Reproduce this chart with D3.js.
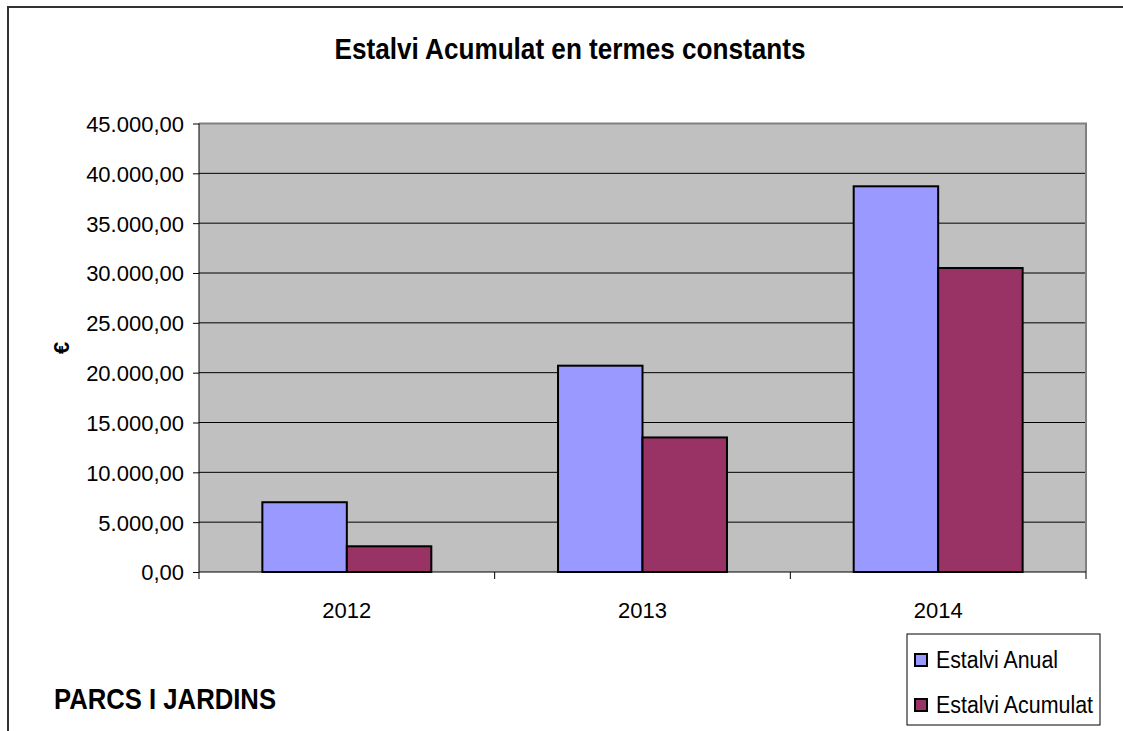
<!DOCTYPE html>
<html>
<head>
<meta charset="utf-8">
<script src="https://cdn.jsdelivr.net/npm/d3@7"></script>
<style>
  body { margin: 0; background: #fff; }
  text { font-family: "Liberation Sans", Arial, sans-serif; fill: #000; }
</style>
</head>
<body>
<div class="chart"></div>
<script>
var svgWidth = 1123;
var svgHeight = 731;

// chart data
var years = ["2012", "2013", "2014"];
var series = ["Estalvi Anual", "Estalvi Acumulat"];
var anual = [7000, 20700, 38700];
var acumulat = [2580, 13500, 30500];
var yTicks = [0, 5000, 10000, 15000, 20000, 25000, 30000, 35000, 40000, 45000];
var colors = ["#9999FF", "#993366"];

// plot area
var margin = { top: 123.5, right: 37, bottom: 159, left: 199 };
var width = svgWidth - margin.left - margin.right;
var height = svgHeight - margin.top - margin.bottom;

var svg = d3.select(".chart")
  .append("svg")
  .attr("width", svgWidth)
  .attr("height", svgHeight);

// outer chart border (runs off the right and bottom)
svg.append("path")
  .attr("d", "M8,740 L8,7 L1130,7")
  .attr("fill", "none")
  .attr("stroke", "#333")
  .attr("stroke-width", 2);

var chartGroup = svg.append("g")
  .attr("transform", `translate(${margin.left}, ${margin.top})`);

var x_scale = d3.scaleBand()
  .domain(years)
  .range([0, width]);

var y_scale = d3.scaleLinear()
  .domain([0, 45000])
  .range([height, 0]);

// gray background
chartGroup.append("rect")
  .attr("width", width)
  .attr("height", height)
  .attr("fill", "#C0C0C0");

// gridlines
chartGroup.selectAll(".grid")
  .data(yTicks.slice(1))
  .enter()
  .append("line")
  .attr("x1", 0)
  .attr("x2", width)
  .attr("y1", d => y_scale(d))
  .attr("y2", d => y_scale(d))
  .attr("stroke", "#000")
  .attr("stroke-width", 1);

// top and right border of plot area
chartGroup.append("path")
  .attr("d", `M0,0 L${width},0 L${width},${height}`)
  .attr("fill", "none")
  .attr("stroke", "#808080")
  .attr("stroke-width", 2);

// bars: gap width 150%
var barW = x_scale.bandwidth() / 3.5;
var groups = chartGroup.selectAll(".year")
  .data(years)
  .enter()
  .append("g")
  .attr("transform", d => `translate(${x_scale(d) + barW * 0.75}, 0)`);

groups.selectAll("rect")
  .data((d, i) => [anual[i], acumulat[i]])
  .enter()
  .append("rect")
  .attr("x", (d, j) => j * barW)
  .attr("y", d => y_scale(d))
  .attr("width", barW)
  .attr("height", d => height - y_scale(d))
  .attr("fill", (d, j) => colors[j])
  .attr("stroke", "#000")
  .attr("stroke-width", 2);

// y axis
var leftAxis = d3.axisLeft(y_scale)
  .tickValues(yTicks)
  .tickSize(6)
  .tickPadding(9)
  .tickFormat(d => d3.format(",.2f")(d).replace(/,/g, "#").replace(".", ",").replace(/#/g, "."));

var yAxis = chartGroup.append("g").call(leftAxis);
yAxis.select(".domain").attr("d", `M0,0 L0,${height + 7}`).attr("stroke", "#000");
yAxis.selectAll("line").attr("stroke", "#000");
yAxis.selectAll("text")
  .style("font-size", "22px")
  .attr("dy", "0.36em");

// x axis
chartGroup.append("line")
  .attr("x1", 0)
  .attr("x2", width)
  .attr("y1", height)
  .attr("y2", height)
  .attr("stroke", "#000")
  .attr("stroke-width", 1);

chartGroup.selectAll(".xtick")
  .data(years)
  .enter()
  .append("line")
  .attr("x1", d => x_scale(d) + x_scale.bandwidth())
  .attr("x2", d => x_scale(d) + x_scale.bandwidth())
  .attr("y1", height)
  .attr("y2", height + 7)
  .attr("stroke", "#000");

chartGroup.selectAll(".xlabel")
  .data(years)
  .enter()
  .append("text")
  .attr("x", d => x_scale(d) + x_scale.bandwidth() / 2)
  .attr("y", height + 46)
  .attr("text-anchor", "middle")
  .style("font-size", "22px")
  .text(d => d);

// title
svg.append("text")
  .attr("x", 570)
  .attr("y", 59)
  .attr("text-anchor", "middle")
  .attr("textLength", 471)
  .attr("lengthAdjust", "spacingAndGlyphs")
  .style("font-size", "30px")
  .style("font-weight", "bold")
  .text("Estalvi Acumulat en termes constants");

// y label
svg.append("text")
  .attr("transform", `translate(69, ${margin.top + height / 2}) rotate(-90)`)
  .attr("text-anchor", "middle")
  .style("font-size", "22px")
  .style("font-weight", "bold")
  .text("€");

// bottom-left caption
svg.append("text")
  .attr("x", 54)
  .attr("y", 709)
  .attr("textLength", 222)
  .attr("lengthAdjust", "spacingAndGlyphs")
  .style("font-size", "30px")
  .style("font-weight", "bold")
  .text("PARCS I JARDINS");

// legend
var legend = svg.append("g").attr("transform", "translate(907, 634)");
legend.append("rect")
  .attr("width", 193)
  .attr("height", 91)
  .attr("fill", "#fff")
  .attr("stroke", "#000")
  .attr("stroke-width", 1);

var items = legend.selectAll(".item")
  .data(series)
  .enter()
  .append("g")
  .attr("transform", (d, i) => `translate(0, ${26 + i * 45})`);

items.append("rect")
  .attr("x", 8)
  .attr("y", -6)
  .attr("width", 12)
  .attr("height", 12)
  .attr("fill", (d, i) => colors[i])
  .attr("stroke", "#000")
  .attr("stroke-width", 2);

items.append("text")
  .attr("x", 29)
  .attr("y", 0)
  .attr("dy", "0.36em")
  .attr("textLength", (d, i) => i === 0 ? 122 : 157)
  .attr("lengthAdjust", "spacingAndGlyphs")
  .style("font-size", "23px")
  .text(d => d);
</script>
</body>
</html>
